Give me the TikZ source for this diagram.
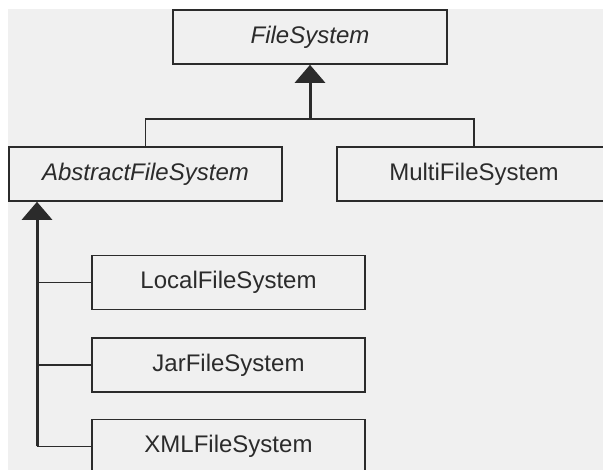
\documentclass[tikz,border=0pt]{standalone}
\usepackage{fontspec}
\setmainfont{Liberation Sans}
\usetikzlibrary{arrows.meta}
\definecolor{bg}{HTML}{F0F0F0}
\definecolor{ink}{HTML}{2B2B2B}
\begin{document}
\begin{tikzpicture}[x=1pt,y=-1pt,
  cls/.style={draw=ink, line width=1.6pt, fill=bg, minimum width=273pt, minimum height=54pt, inner sep=0pt, font=\fontsize{24}{28}\selectfont, text=ink},
  tree/.style={draw=ink, line width=1.6pt},
  inherit/.style={draw=ink, line width=3pt, -{Triangle[width=30pt,length=18pt]}}]
\useasboundingbox (0,0) rectangle (603,470);
\clip (0,0) rectangle (603,470);
\fill[white] (0,0) rectangle (603,470);
\fill[bg] (8,9) rectangle (603,470);
\node[cls, minimum width=274pt] (fs) at (310,37) {\itshape FileSystem};
\node[cls] (abs) at (145.5,174) {\itshape AbstractFileSystem};
\node[cls, minimum width=274pt] (multi) at (474,174) {MultiFileSystem};
\node[cls] (local) at (228.5,282.5) {LocalFileSystem};
\node[cls] (jar) at (228.5,365) {JarFileSystem};
\node[cls] (xml) at (228.5,446.5) {XMLFileSystem};
\coordinate (j) at (310,119);
\draw[tree] (abs.north) |- (j) -| (multi.north);
\draw[inherit] (j) -- (fs.south);
\coordinate (b) at (37,446.5);
\draw[tree] (b |- local.west) -- (local.west);
\draw[tree] (b |- jar.west) -- (jar.west);
\draw[tree] (b) -- (xml.west);
\draw[inherit] (b) -- (b |- abs.south);
\end{tikzpicture}
\end{document}
